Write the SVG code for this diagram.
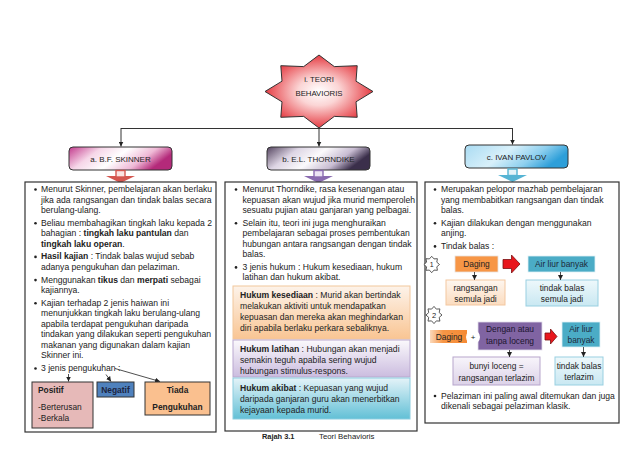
<svg xmlns="http://www.w3.org/2000/svg" width="638" height="452" viewBox="0 0 638 452">
<defs>
<style>
.t{font-family:"Liberation Sans",Arial,sans-serif;font-size:8.6px;fill:#222}
.h{font-family:"Liberation Sans",Arial,sans-serif;font-size:8px;fill:#222;text-anchor:middle}
.s{font-family:"Liberation Sans",Arial,sans-serif;font-size:8.4px;fill:#222;text-anchor:middle}
.b{font-weight:bold}
.c{text-anchor:middle}
.box{fill:#fff;stroke:#333;stroke-width:1.2}
.ln{stroke:#333;stroke-width:1;fill:none}
.al{stroke:#222;stroke-width:0.8;fill:none}
.dot{fill:#222}
</style>
<radialGradient id="gStar" cx="50%" cy="50%" r="55%">
<stop offset="0" stop-color="#fff"/>
<stop offset="0.35" stop-color="#fbd5d5"/>
<stop offset="1" stop-color="#e2232b"/>
</radialGradient>
<linearGradient id="gSk" x1="0" y1="0" x2="1" y2="0.3">
<stop offset="0" stop-color="#c23a8c"/>
<stop offset="0.3" stop-color="#f6d6e8"/>
<stop offset="0.55" stop-color="#fff"/>
<stop offset="0.8" stop-color="#efb9d6"/>
<stop offset="1" stop-color="#b42a7a"/>
</linearGradient>
<linearGradient id="gTh" x1="0" y1="0" x2="1" y2="0.3">
<stop offset="0" stop-color="#54445f"/>
<stop offset="0.3" stop-color="#ddd5e4"/>
<stop offset="0.55" stop-color="#fbfafc"/>
<stop offset="0.8" stop-color="#c8bcd2"/>
<stop offset="1" stop-color="#3b2f4b"/>
</linearGradient>
<linearGradient id="gPv" x1="0" y1="0" x2="1" y2="0.3">
<stop offset="0" stop-color="#a9dbf2"/>
<stop offset="0.45" stop-color="#d8f0fa"/>
<stop offset="0.75" stop-color="#8fd0ef"/>
<stop offset="1" stop-color="#2e9fd9"/>
</linearGradient>
<linearGradient id="gKes" x1="0" y1="0" x2="0" y2="1">
<stop offset="0" stop-color="#fdf3ea"/>
<stop offset="1" stop-color="#f9c593"/>
</linearGradient>
<linearGradient id="gLat" x1="0" y1="0" x2="0" y2="1">
<stop offset="0" stop-color="#fbf9fc"/>
<stop offset="1" stop-color="#cbbcdf"/>
</linearGradient>
<linearGradient id="gAki" x1="0" y1="0" x2="0" y2="1">
<stop offset="0" stop-color="#e4f3f8"/>
<stop offset="1" stop-color="#62c0d6"/>
</linearGradient>
<linearGradient id="gPeach" x1="0" y1="0" x2="0" y2="1">
<stop offset="0" stop-color="#fef6ef"/>
<stop offset="1" stop-color="#fbdcbf"/>
</linearGradient>
<linearGradient id="gLblue" x1="0" y1="0" x2="0" y2="1">
<stop offset="0" stop-color="#eef8fb"/>
<stop offset="1" stop-color="#c9e8f2"/>
</linearGradient>
<linearGradient id="gLav" x1="0" y1="0" x2="0" y2="1">
<stop offset="0" stop-color="#f8f5fb"/>
<stop offset="1" stop-color="#dcd2e8"/>
</linearGradient>
<linearGradient id="gDag2" x1="0" y1="0" x2="1" y2="0">
<stop offset="0" stop-color="#fbd9bb"/>
<stop offset="0.35" stop-color="#f79646"/>
<stop offset="1" stop-color="#f58a34"/>
</linearGradient>
<marker id="ah" viewBox="0 0 10 10" refX="10" refY="5" markerWidth="5" markerHeight="5" markerUnits="userSpaceOnUse" orient="auto">
<path d="M0,0 L10,5 L0,10 z" fill="#222"/>
</marker>
</defs>
<rect width="638" height="452" fill="#fff"/>

<g id="connectors">
<line class="ln" x1="319" y1="128" x2="319" y2="146.5" marker-end="url(#ah)"/>
<line class="ln" x1="121" y1="128.5" x2="513" y2="128.5"/>
<line class="ln" x1="121" y1="128" x2="121" y2="146.5" marker-end="url(#ah)"/>
<line class="ln" x1="512.5" y1="128" x2="512.5" y2="144.5" marker-end="url(#ah)"/>
</g>

<g id="root">
<polygon points="373,91.5 356,81.2 357.2,65.7 334.3,66.6 319,55 303.7,66.6 280.8,65.7 282,81.2 265,91.5 282,101.8 280.8,117.3 303.7,116.4 319,128 334.3,116.4 357.2,117.3 356,101.8" fill="url(#gStar)" stroke="#333" stroke-width="1"/>
<text class="h" x="319" y="82" style="font-size:7.8px">i.  TEORI</text>
<text class="h" x="319" y="96" style="font-size:7.8px">BEHAVIORIS</text>
</g>

<g id="skinner-head">
<rect x="69" y="147" width="103" height="23" rx="4" fill="url(#gSk)" stroke="#333" stroke-width="1"/>
<text class="h" x="120.5" y="161.5">a. B.F. SKINNER</text>
<polygon points="106,176 135,176 120.5,183" fill="#d4564f"/>
<rect x="116" y="170.5" width="9" height="6.5" fill="#fbe3e1" stroke="#d4564f" stroke-width="1.4"/>
</g>

<g id="thorndike-head">
<rect x="267" y="147" width="103" height="23" rx="4" fill="url(#gTh)" stroke="#333" stroke-width="1"/>
<text class="h" x="318.5" y="161.5">b. E.L. THORNDIKE</text>
<polygon points="304,176 333,176 318.5,183" fill="#8a6bb0"/>
<rect x="314" y="170.5" width="9" height="6.5" fill="#ece4f4" stroke="#8a6bb0" stroke-width="1.4"/>
</g>

<g id="pavlov-head">
<rect x="465" y="145" width="103" height="23" rx="4" fill="url(#gPv)" stroke="#333" stroke-width="1"/>
<text class="h" x="516.5" y="159.5">c. IVAN PAVLOV</text>
<polygon points="498,175 527,175 512.5,182" fill="#55b4d4"/>
<rect x="508" y="169" width="9" height="6.5" fill="#e2f3f9" stroke="#55b4d4" stroke-width="1.4"/>
</g>

<g id="skinner">
<rect class="box" x="25" y="182" width="191" height="250"/>
<circle class="dot" cx="35.5" cy="189.5" r="1.3"/>
<text class="t" x="41" y="192">Menurut Skinner, pembelajaran akan berlaku</text>
<text class="t" x="41" y="202.5">jika ada rangsangan dan tindak balas secara</text>
<text class="t" x="41" y="213">berulang-ulang.</text>
<circle class="dot" cx="35.5" cy="223.2" r="1.3"/>
<text class="t" x="41" y="225.7">Beliau membahagikan tingkah laku kepada 2</text>
<text class="t" x="41" y="236.2">bahagian : <tspan class="b">tingkah laku pantulan</tspan> dan</text>
<text class="t" x="41" y="246.7"><tspan class="b">tingkah laku operan</tspan>.</text>
<circle class="dot" cx="35.5" cy="256.9" r="1.3"/>
<text class="t" x="41" y="259.4"><tspan class="b">Hasil kajian</tspan> : Tindak balas wujud sebab</text>
<text class="t" x="41" y="269.9">adanya pengukuhan dan pelaziman.</text>
<circle class="dot" cx="35.5" cy="280.1" r="1.3"/>
<text class="t" x="41" y="282.6">Menggunakan <tspan class="b">tikus</tspan> dan <tspan class="b">merpati</tspan> sebagai</text>
<text class="t" x="41" y="293.1">kajiannya.</text>
<circle class="dot" cx="35.5" cy="303.3" r="1.3"/>
<text class="t" x="41" y="305.8">Kajian terhadap 2 jenis haiwan ini</text>
<text class="t" x="41" y="316.3">menunjukkan tingkah laku berulang-ulang</text>
<text class="t" x="41" y="326.8">apabila terdapat pengukuhan daripada</text>
<text class="t" x="41" y="337.3">tindakan yang dilakukan seperti pengukuhan</text>
<text class="t" x="41" y="347.8">makanan yang digunakan dalam kajian</text>
<text class="t" x="41" y="358.3">Skinner ini.</text>
<circle class="dot" cx="35.5" cy="368.5" r="1.3"/>
<text class="t" x="41" y="371">3 jenis pengukuhan :</text>
<line class="al" x1="68.5" y1="374" x2="68.5" y2="381.5" marker-end="url(#ah)"/>
<line class="al" x1="106" y1="374.5" x2="111" y2="381.5" marker-end="url(#ah)"/>
<line class="al" x1="115" y1="368.5" x2="160" y2="381.5" marker-end="url(#ah)"/>
</g>

<g id="positif">
<rect x="32" y="382" width="61" height="46" fill="#e6b9b8" stroke="#333" stroke-width="1"/>
<text class="t b" x="38" y="393" style="font-size:8.4px">Positif</text>
<text class="t" x="38" y="410" style="font-size:8.4px">-Berterusan</text>
<text class="t" x="38" y="421" style="font-size:8.4px">-Berkala</text>
</g>
<g id="negatif">
<rect x="97" y="382" width="37" height="15" fill="#4f81bd" stroke="#333" stroke-width="1"/>
<text class="s b" x="115.5" y="393" style="fill:#1c2440">Negatif</text>
</g>
<g id="tiada">
<rect x="145" y="382" width="65" height="33" fill="#fac08f" stroke="#333" stroke-width="1"/>
<text class="s b" x="177.5" y="393">Tiada</text>
<text class="s b" x="177.5" y="409.5">Pengukuhan</text>
</g>

<g id="thorndike">
<rect class="box" x="225" y="182" width="192" height="249"/>
<circle class="dot" cx="236" cy="189.5" r="1.3"/>
<text class="t" x="242.5" y="192">Menurut Thorndike, rasa kesenangan atau</text>
<text class="t" x="242.5" y="202.5">kepuasan akan wujud jika murid memperoleh</text>
<text class="t" x="242.5" y="213">sesuatu pujian atau ganjaran yang pelbagai.</text>
<circle class="dot" cx="236" cy="223.2" r="1.3"/>
<text class="t" x="242.5" y="225.7">Selain itu, teori ini juga menghuraikan</text>
<text class="t" x="242.5" y="236.2">pembelajaran sebagai proses pembentukan</text>
<text class="t" x="242.5" y="246.7">hubungan antara rangsangan dengan tindak</text>
<text class="t" x="242.5" y="257.2">balas.</text>
<circle class="dot" cx="236" cy="267.4" r="1.3"/>
<text class="t" x="242.5" y="269.9">3 jenis hukum : Hukum kesediaan, hukum</text>
<text class="t" x="242.5" y="280.4">latihan dan hukum akibat.</text>
</g>

<g id="kesediaan">
<rect x="233" y="286" width="177" height="53" fill="url(#gKes)" stroke="#f2c79c" stroke-width="1"/>
<text class="t" x="240" y="297.5"><tspan class="b">Hukum kesediaan</tspan> : Murid akan bertindak</text>
<text class="t" x="240" y="308.5">melakukan aktiviti untuk mendapatkan</text>
<text class="t" x="240" y="319.5">kepuasan dan mereka akan meghindarkan</text>
<text class="t" x="240" y="330.5">diri apabila  berlaku perkara sebaliknya.</text>
</g>
<g id="latihan">
<rect x="233" y="340" width="177" height="37" fill="url(#gLat)" stroke="#b9a8cf" stroke-width="1"/>
<text class="t" x="240" y="351.5"><tspan class="b">Hukum latihan</tspan> : Hubungan akan menjadi</text>
<text class="t" x="240" y="362.5">semakin teguh apabila sering wujud</text>
<text class="t" x="240" y="373.5">hubungan stimulus-respons.</text>
</g>
<g id="akibat">
<rect x="233" y="378" width="177" height="41" fill="url(#gAki)" stroke="#8ccde0" stroke-width="1"/>
<text class="t" x="240" y="391"><tspan class="b">Hukum akibat</tspan>  : Kepuasan yang wujud</text>
<text class="t" x="240" y="402">daripada ganjaran guru akan menerbitkan</text>
<text class="t" x="240" y="413">kejayaan kepada murid.</text>
</g>

<g id="pavlov">
<rect class="box" x="425" y="182" width="194" height="241"/>
<circle class="dot" cx="435" cy="189.5" r="1.3"/>
<text class="t" x="441" y="192">Merupakan pelopor mazhab pembelajaran</text>
<text class="t" x="441" y="202.5">yang membabitkan rangsangan dan tindak</text>
<text class="t" x="441" y="213">balas.</text>
<circle class="dot" cx="435" cy="223.2" r="1.3"/>
<text class="t" x="441" y="225.7">Kajian dilakukan dengan menggunakan</text>
<text class="t" x="441" y="236.2">anjing.</text>
<circle class="dot" cx="435" cy="246.4" r="1.3"/>
<text class="t" x="441" y="248.9">Tindak balas :</text>
<circle class="dot" cx="435" cy="396" r="1.3"/>
<text class="t" x="441" y="398.5">Pelaziman ini paling awal ditemukan dan juga</text>
<text class="t" x="441" y="409">dikenali sebagai pelaziman klasik.</text>
</g>

<g id="step1">
<polygon points="439.5,264.5 436.8,266.8 437.4,270.3 434,270.1 431.7,272.7 429.4,270.1 426,270.3 426.6,266.8 423.9,264.5 426.6,262.2 426,258.7 429.4,258.9 431.7,256.3 434,258.9 437.4,258.7 436.8,262.2" fill="#fff" stroke="#333" stroke-width="0.8"/>
<text class="s" x="431.7" y="267.2" style="font-size:7px">1</text>
</g>
<g id="step2">
<polygon points="442,315 439.2,317.4 439.9,321.1 436.3,320.9 434,323.6 431.6,320.9 428,321.1 428.7,317.4 425.9,315 428.7,312.6 428,308.9 431.6,309.1 434,306.4 436.3,309.1 439.9,308.9 439.2,312.6" fill="#fff" stroke="#333" stroke-width="0.8"/>
<text class="s" x="434" y="317.8" style="font-size:7.5px">2</text>
</g>

<g id="daging1">
<rect x="455" y="256" width="43" height="16" fill="#f79646" stroke="#e9e2dc" stroke-width="0.8"/>
<text class="s" x="476.5" y="267">Daging</text>
</g>
<g id="arrow1">
<polygon points="503,259.5 511.5,259.5 511.5,255 520,264 511.5,273 511.5,268.5 503,268.5" fill="#e8171d" stroke="#7a1010" stroke-width="0.8"/>
</g>
<g id="airliur1">
<rect x="528" y="256" width="67" height="16" fill="#4bacc6" stroke="#dfeff4" stroke-width="0.8"/>
<text class="s" x="561.5" y="267" style="fill:#1d2a3a">Air liur banyak</text>
</g>
<g id="rangsangan1">
<rect x="446" y="280" width="59" height="25" fill="url(#gPeach)" stroke="#f3c7a0" stroke-width="1"/>
<text class="s" x="475.5" y="290.5">rangsangan</text>
<text class="s" x="475.5" y="301.5">semula jadi</text>
</g>
<g id="tindak1">
<rect x="526" y="280" width="72" height="26" fill="url(#gLblue)" stroke="#99d0e1" stroke-width="1"/>
<text class="s" x="562" y="290.5">tindak balas</text>
<text class="s" x="562" y="301.5">semula jadi</text>
</g>

<g id="daging2">
<rect x="430" y="330" width="37" height="13" fill="url(#gDag2)"/>
<text class="s" x="449" y="339.8">Daging</text>
</g>
<g id="dengan">
<rect x="478" y="322" width="64" height="28" fill="#8064a2" stroke="#e2dcea" stroke-width="0.8"/>
<text class="s" x="510" y="332" style="fill:#1c1530">Dengan atau</text>
<text class="s" x="510" y="344" style="fill:#1c1530">tanpa loceng</text>
</g>
<g id="plus">
<circle cx="473" cy="337" r="7" fill="#fff"/>
<text class="s" x="473" y="340" style="font-size:8px">+</text>
</g>
<g id="arrow2">
<polygon points="545,333 550.5,333 550.5,329 557,336.5 550.5,344 550.5,340 545,340" fill="#e8171d" stroke="#7a1010" stroke-width="0.8"/>
</g>
<g id="airliur2">
<rect x="562" y="322" width="38" height="25" fill="#4bacc6" stroke="#dfeff4" stroke-width="0.8"/>
<text class="s" x="581" y="331.5" style="fill:#1d2a3a">Air liur</text>
<text class="s" x="581" y="343" style="fill:#1d2a3a">banyak</text>
</g>
<g id="bunyi">
<rect x="453" y="357" width="87" height="28" fill="url(#gLav)" stroke="#b7a6cc" stroke-width="1"/>
<text class="s" x="496.5" y="369">bunyi loceng =</text>
<text class="s" x="496.5" y="381">rangsangan terlazim</text>
</g>
<g id="tindak2">
<rect x="555" y="357" width="48" height="28" fill="url(#gLblue)" stroke="#99d0e1" stroke-width="1"/>
<text class="s" x="579" y="368.5">tindak balas</text>
<text class="s" x="579" y="380">terlazim</text>
</g>

<g id="pavlov-arrows">
<line class="al" x1="474.5" y1="272" x2="474.5" y2="280" marker-end="url(#ah)"/>
<line class="al" x1="560.5" y1="272" x2="560.5" y2="280" marker-end="url(#ah)"/>
<line class="al" x1="509.5" y1="350" x2="509.5" y2="357" marker-end="url(#ah)"/>
<line class="al" x1="583.5" y1="347" x2="583.5" y2="357" marker-end="url(#ah)"/>
</g>

<g id="caption">
<text class="t b" x="262" y="439" style="font-size:7.4px">Rajah 3.1</text>
<text class="t" x="319" y="439" style="font-size:7.8px">Teori Behavioris</text>
</g>
</svg>
